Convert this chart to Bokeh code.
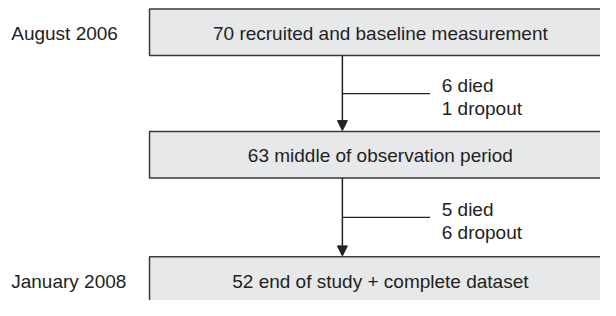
from bokeh.plotting import figure
from bokeh.models import Range1d, Arrow, NormalHead
from bokeh.core.properties import value
from bokeh.embed import file_html
from bokeh.resources import INLINE

# ---- data ----
stages = ["70 recruited and baseline measurement",
          "63 middle of observation period",
          "52 end of study + complete dataset"]
dates = ["August 2006", "", "January 2008"]
losses_died = ["6 died", "5 died"]
losses_dropout = ["1 dropout", "6 dropout"]

# ---- layout: data units = reference pixels (616 x 316) ----
W, H = 600, 300
p = figure(width=W, height=H, output_backend="svg", toolbar_location=None,
           x_range=Range1d(0, 616), y_range=Range1d(316, 0),
           min_border=0, outline_line_color=None)
p.axis.visible = False
p.grid.visible = False

FONT = value("Liberation Sans")
FS = "19px"
box_tops = [9, 138, 270]
box_h = 49
box_left, box_right = 153, 650
arrow_x = 351
branch_end = 441
text_x = 453
box_cx = 390

centers = [t + box_h / 2 + 1 for t in box_tops]
p.quad(left=box_left, right=box_right, top=box_tops,
       bottom=[t + box_h for t in box_tops],
       fill_color="#e7e8ea", line_color="#3a3a3a", line_width=1.5)

p.text(x=[box_cx] * len(stages), y=centers, text=stages,
       text_font=FONT, text_font_size=FS, text_color="#222222",
       text_align="center", text_baseline="middle")

p.text(x=[11] * len(dates), y=centers, text=dates,
       text_font=FONT, text_font_size=FS, text_color="#222222",
       text_align="left", text_baseline="middle")

for i in range(len(losses_died)):
    y0 = box_tops[i] + box_h
    y1 = box_tops[i + 1]
    p.add_layout(Arrow(end=NormalHead(size=10, fill_color="#222222",
                                      line_color="#222222", line_width=1),
                       x_start=arrow_x, y_start=y0, x_end=arrow_x, y_end=y1 - 1,
                       line_color="#222222", line_width=1.5))
    ym = y0 + (y1 - y0) * 0.5
    p.segment(x0=[arrow_x], y0=[ym], x1=[branch_end], y1=[ym],
              line_color="#222222", line_width=1.2)
    p.text(x=[text_x, text_x], y=[ym - 8, ym + 16],
           text=[losses_died[i], losses_dropout[i]],
           text_font=FONT, text_font_size=FS, text_color="#222222",
           text_align="left", text_baseline="middle")

open("out.html", "w").write(file_html(p, INLINE))
